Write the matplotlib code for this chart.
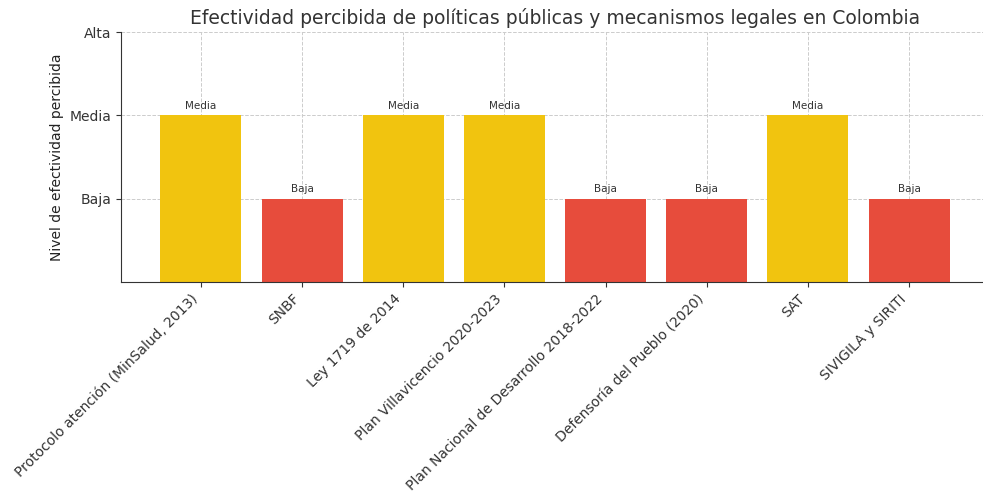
import matplotlib.pyplot as plt

politicas = ["Protocolo atención (MinSalud, 2013)", "SNBF", "Ley 1719 de 2014",
             "Plan Villavicencio 2020-2023", "Plan Nacional de Desarrollo 2018-2022",
             "Defensoría del Pueblo (2020)", "SAT", "SIVIGILA y SIRITI"]
niveles = ["Media", "Baja", "Media", "Media", "Baja", "Baja", "Media", "Baja"]
escala = {"Baja": 1, "Media": 2, "Alta": 3}
colores_nivel = {"Baja": "#E74C3C", "Media": "#F1C40F", "Alta": "#2ECC71"}

valores = [escala[n] for n in niveles]
colores = [colores_nivel[n] for n in niveles]

fig = plt.figure(figsize=(9.83, 5.0), dpi=100)
ax = fig.add_axes([121 / 983, 218 / 500, 868 / 983, 250 / 500])

x = range(len(politicas))
barras = ax.bar(x, valores, color=colores, width=0.8, zorder=2)

for b, n in zip(barras, niveles):
    ax.text(b.get_x() + b.get_width() / 2, b.get_height() + 0.05, n,
            ha="center", va="bottom", fontsize=7.5, color="#333333")

ax.set_xlim(-0.79, 7.79)
ax.set_ylim(0, 3)
ax.set_yticks([1, 2, 3])
ax.set_yticklabels(["Baja", "Media", "Alta"], fontsize=10, color="#222222")
ax.set_xticks(list(x))
ax.set_xticklabels(politicas, rotation=45, ha="right", fontsize=10, color="#222222")
ax.set_ylabel("Nivel de efectividad percibida", fontsize=10, color="#222222")
ax.set_title("Efectividad percibida de políticas públicas y mecanismos legales en Colombia",
             fontsize=13.5, color="#333333")

ax.grid(True, linestyle="--", color="#cccccc", linewidth=0.7, zorder=0)
ax.set_axisbelow(True)
for s in ["top", "right"]:
    ax.spines[s].set_visible(False)
ax.spines["left"].set_color("#333333")
ax.spines["bottom"].set_color("#333333")
ax.tick_params(colors="#333333")

fig.savefig("out.png", dpi=100)
